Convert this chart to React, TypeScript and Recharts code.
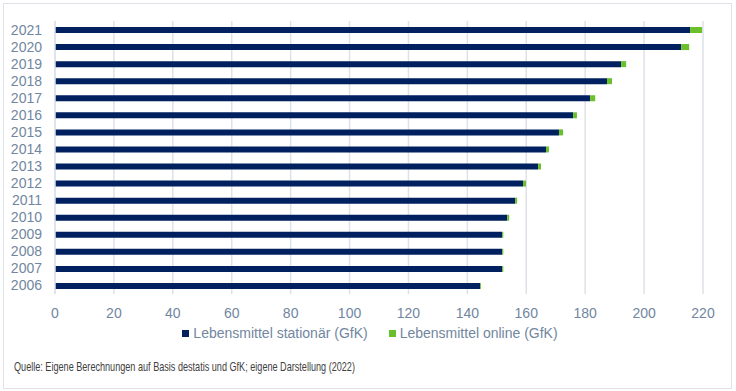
import { BarChart, Bar, XAxis, YAxis, CartesianGrid, Legend } from 'recharts';

const years = ['2021', '2020', '2019', '2018', '2017', '2016', '2015', '2014', '2013', '2012', '2011', '2010', '2009', '2008', '2007', '2006'];
const stationaer = [215.6, 212.6, 192.2, 187.4, 181.7, 175.9, 171.1, 166.7, 164.0, 158.9, 156.2, 153.5, 151.8, 151.8, 151.8, 144.3];
const online = [4.1, 2.7, 1.7, 1.7, 1.7, 1.3, 1.4, 1.0, 1.0, 1.0, 0.7, 0.7, 0.4, 0.4, 0.4, 0.3];
const xTicks = [0, 20, 40, 60, 80, 100, 120, 140, 160, 180, 200, 220];

const NAVY = '#002060';
const GREEN = '#6abf2c';
const TICK = '#7186a0';
const GRID = '#dde2e8';

const data = years.map((year, i) => ({ year, stationaer: stationaer[i], online: online[i] }));

const LegendBox = () => (
  <div style={{ display: 'flex', justifyContent: 'center', alignItems: 'center', height: 18, paddingBottom: 8, paddingLeft: 37, fontSize: 14, color: TICK, fontFamily: 'Liberation Sans, Arial, sans-serif' }}>
    <span style={{ width: 7, height: 7, background: NAVY, marginRight: 4 }} />
    <span style={{ marginRight: 21 }}>Lebensmittel stationär (GfK)</span>
    <span style={{ width: 7, height: 7, background: GREEN, marginRight: 4 }} />
    <span>Lebensmittel online (GfK)</span>
  </div>
);

const App = () => {
  return (
    <div style={{ position: 'absolute', left: 0, top: 0, width: 736, height: 391, background: '#fff', fontFamily: 'Liberation Sans, Arial, sans-serif' }}>
      <div style={{ position: 'absolute', left: 3, top: 3, width: 727, height: 384, border: '1px solid #dfe3e8' }} />
      <div style={{ position: 'absolute', left: 0, top: 0 }}>
        <BarChart
          width={736}
          height={350}
          data={data}
          layout="vertical"
          margin={{ top: 21, right: 33, bottom: 0, left: 0 }}
        >
          <CartesianGrid horizontal={false} stroke={GRID} strokeWidth={1.5} />
          <XAxis
            type="number"
            domain={[0, 220]}
            ticks={xTicks}
            axisLine={false}
            tickLine={false}
            height={30}
            tickMargin={8}
            tick={{ fill: TICK, fontSize: 14 }}
          />
          <YAxis
            type="category"
            dataKey="year"
            width={55}
            interval={0}
            axisLine={{ stroke: GRID, strokeWidth: 1.5 }}
            tickLine={false}
            tickMargin={7}
            tick={{ fill: TICK, fontSize: 14 }}
          />
          <Legend verticalAlign="bottom" content={() => <LegendBox />} />
          <Bar dataKey="stationaer" stackId="a" fill={NAVY} barSize={6} isAnimationActive={false} />
          <Bar dataKey="online" stackId="a" fill={GREEN} barSize={6} isAnimationActive={false} />
        </BarChart>
      </div>
      <div style={{ position: 'absolute', left: 14, top: 359, fontSize: 13, color: '#404040', whiteSpace: 'nowrap', transform: 'scaleX(0.7)', transformOrigin: 'left center', fontFamily: 'Liberation Sans, Arial, sans-serif' }}>
        Quelle: Eigene Berechnungen auf Basis destatis und GfK; eigene Darstellung (2022)
      </div>
    </div>
  );
};

export default App;
